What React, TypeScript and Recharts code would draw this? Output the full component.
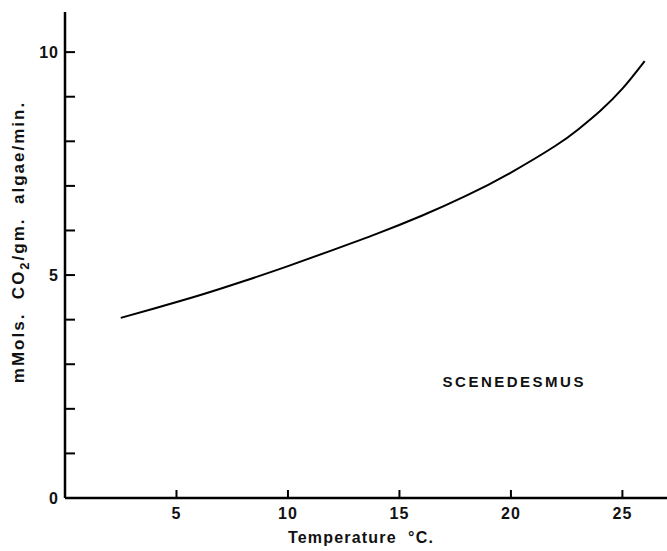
import React from "react";
import {
    LineChart,
    Line,
    XAxis,
    YAxis,
    ReferenceDot,
} from "recharts";

// temperature (°C)
const temps = [2.5, 4, 6, 8, 10, 12, 14, 16, 18, 20, 22, 23, 24, 25, 26];
// mMols CO2 / gm algae / min
const rates = [4.04, 4.25, 4.54, 4.86, 5.2, 5.56, 5.93, 6.33, 6.78, 7.3, 7.9, 8.26, 8.68, 9.18, 9.8];

const xTicks = [5, 10, 15, 20, 25];
const yTicks = [0, 1, 2, 3, 4, 5, 6, 7, 8, 9, 10];
const yLabelled = [0, 5, 10];

const data = temps.map((t, i) => ({ temp: t, rate: rates[i] }));

const FONT = "'Liberation Sans', Arial, sans-serif";

const XTick = ({ x, y, payload }: any) => (
    <g>
        <line x1={x} y1={y} x2={x} y2={y - 8} stroke="#000" strokeWidth={2} />
        <text x={x} y={y + 21} textAnchor="middle" fontFamily={FONT} fontSize={16} fontWeight="bold" fill="#111" letterSpacing={1}>
            {payload.value}
        </text>
    </g>
);

const YTick = ({ x, y, payload }: any) => (
    <g>
        <line x1={x} y1={y} x2={x + 10} y2={y} stroke="#000" strokeWidth={2} />
        {yLabelled.includes(payload.value) && (
            <text x={x - 6} y={y + 6} textAnchor="end" fontFamily={FONT} fontSize={16} fontWeight="bold" fill="#111" letterSpacing={1}>
                {payload.value}
            </text>
        )}
    </g>
);

const XTitle = ({ viewBox }: any) => {
    const { x, y, width } = viewBox;
    return (
        <text x={x + width / 2 - 5} y={y + 45} textAnchor="middle" fontFamily={FONT} fontSize={16} fontWeight="bold" fill="#111" letterSpacing={1.2}>
            Temperature{"\u00a0\u00a0"}°C.
        </text>
    );
};

const YTitle = () => (
    <text
        transform="translate(24, 242) rotate(-90)"
        textAnchor="middle"
        fontFamily={FONT}
        fontSize={17}
        fontWeight="bold"
        fill="#111"
        letterSpacing={2}
    >
        mMols.{"\u00a0"} CO
        <tspan dy={5} fontSize={13}>2</tspan>
        <tspan dy={-5}>/gm.{"\u00a0"} algae/min.</tspan>
    </text>
);

const App = () => {
    return (
        <div style={{ position: "absolute", top: 0, left: 0, background: "#fff" }}>
            <LineChart
                width={667}
                height={551}
                data={data}
                margin={{ top: 12, right: 0, left: 0, bottom: 0 }}
            >
                <XAxis
                    dataKey="temp"
                    type="number"
                    domain={[0, 27]}
                    ticks={xTicks}
                    height={53}
                    tickSize={0}
                    tickMargin={0}
                    tickLine={false}
                    axisLine={{ stroke: "#000", strokeWidth: 2.5 }}
                    tick={<XTick />}
                    label={<XTitle />}
                />
                <YAxis
                    type="number"
                    domain={[0, 10.9]}
                    ticks={yTicks}
                    width={65}
                    tickSize={0}
                    tickMargin={0}
                    tickLine={false}
                    axisLine={{ stroke: "#000", strokeWidth: 2.5 }}
                    tick={<YTick />}
                    label={<YTitle />}
                />
                <ReferenceDot
                    x={20.15}
                    y={2.6}
                    r={0}
                    stroke="none"
                    label={{
                        value: "SCENEDESMUS",
                        position: "center",
                        fontFamily: FONT,
                        fontSize: 15,
                        fontWeight: "bold",
                        fill: "#111",
                        letterSpacing: 2.5,
                    }}
                />
                <Line
                    type="natural"
                    dataKey="rate"
                    stroke="#000"
                    strokeWidth={2}
                    dot={false}
                    isAnimationActive={false}
                />
            </LineChart>
        </div>
    );
};

export default App;
